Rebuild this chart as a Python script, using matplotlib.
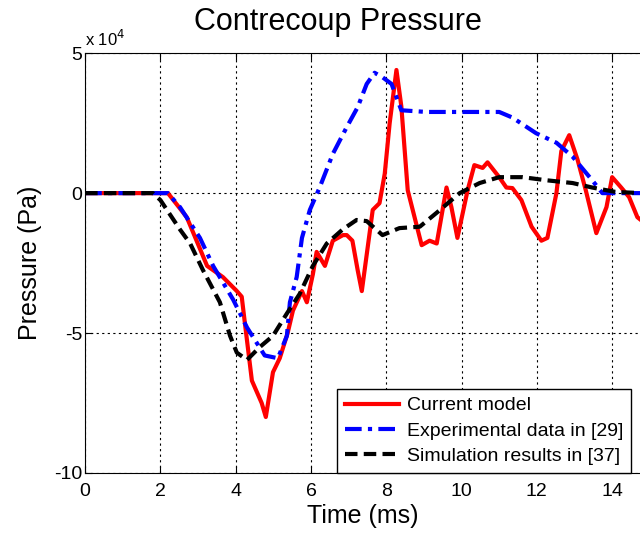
import matplotlib
matplotlib.use("Agg")
import matplotlib.pyplot as plt

plt.rcParams['font.family'] = ['Liberation Sans', 'DejaVu Sans']
plt.rcParams['axes.unicode_minus'] = False

# pressure values in units of 1e4 Pa, time in ms
model_t = [0, 2.0, 2.2, 2.7, 3.24, 3.66, 4.03, 4.16, 4.24, 4.43, 4.69, 4.8, 4.99, 5.17,
           5.38, 5.52, 5.76, 5.89, 6.05, 6.15, 6.37, 6.58, 6.85, 6.95, 7.1, 7.24, 7.35,
           7.64, 7.82, 7.96, 8.09, 8.27, 8.4, 8.57, 8.94, 9.15, 9.34, 9.6, 9.73, 9.89,
           10.16, 10.34, 10.56, 10.69, 11.0, 11.19, 11.35, 11.59, 11.86, 12.12, 12.28,
           12.52, 12.65, 12.86, 13.08, 13.3, 13.58, 13.85, 14.0, 14.24, 14.45, 14.67, 14.8]
model_p = [0, 0, 0, -0.86, -2.6, -3.0, -3.5, -3.7, -4.6, -6.7, -7.5, -8.0, -6.4, -5.9,
           -5.0, -4.2, -3.5, -3.9, -2.9, -2.1, -2.6, -1.7, -1.5, -1.5, -1.7, -2.75, -3.5,
           -0.6, -0.36, 0.7, 2.5, 4.4, 3.1, 0.1, -1.86, -1.7, -1.8, 0.2, -0.5, -1.6,
           0.1, 1.0, 0.9, 1.1, 0.57, 0.2, 0.18, -0.25, -1.2, -1.7, -1.6,
           0, 1.5, 2.07, 1.2, 0.1, -1.43, -0.5, 0.57, 0.2, -0.14, -0.86, -1.0]

exp_t = [0, 2.2, 2.52, 3.05, 3.4, 3.93, 4.3, 4.77, 5.12, 5.36, 5.44, 5.62, 5.76, 5.97,
         6.23, 6.58, 6.95, 7.24, 7.48, 7.69, 7.9, 8.14, 8.4, 9.07, 11.0, 11.35, 11.98,
         12.52, 12.95, 13.47, 13.74, 14.8]
exp_p = [0, 0, -0.5, -1.6, -2.6, -3.8, -4.8, -5.8, -5.9, -5.1, -3.9, -3.0, -1.6, -0.6,
         0.2, 1.4, 2.36, 3.07, 3.9, 4.3, 4.14, 3.9, 2.96, 2.9, 2.9, 2.7, 2.14,
         1.8, 1.3, 0.46, 0, 0]

sim_t = [0, 1.8, 2.0, 2.52, 2.79, 3.13, 3.58, 3.85, 4.03, 4.3, 4.64, 4.99, 5.36, 5.7,
         6.05, 6.42, 6.84, 7.21, 7.48, 7.9, 8.35, 8.89, 9.34, 9.95, 10.48, 11.0, 11.62,
         12.25, 12.95, 13.47, 14.1, 14.8]
sim_p = [0, 0, -0.25, -1.3, -1.8, -2.75, -3.9, -5.1, -5.7, -5.96, -5.5, -5.1, -4.3, -3.6,
         -2.6, -1.8, -1.3, -0.96, -1.0, -1.5, -1.25, -1.2, -0.7, 0, 0.36, 0.57, 0.57,
         0.46, 0.36, 0.2, 0.04, 0]

fig = plt.figure(figsize=(6.4, 5.41), dpi=100)
ax = fig.add_axes([0.133, 0.1257, 0.867, 0.776])

ax.plot(model_t, model_p, color='red', lw=3, label='Current model')
ax.plot(exp_t, exp_p, color='blue', lw=3, linestyle=(0, (4, 1.5, 1, 1.5)),
        label='Experimental data in [29]')
ax.plot(sim_t, sim_p, color='black', lw=3, linestyle=(0, (3, 1.5)),
        label='Simulation results in [37]')

ax.set_xlim(0, 14.74)
ax.set_ylim(-10, 5)
ax.set_xticks([0, 2, 4, 6, 8, 10, 12, 14])
ax.set_yticks([-10, -5, 0, 5])
ax.tick_params(direction='in', labelsize=14, top=True, length=5)
ax.tick_params(axis='x', pad=7)
ax.tick_params(axis='y', pad=2)
ax.grid(True, color='black', linestyle=(0, (2, 3)), linewidth=0.8)
ax.spines['right'].set_visible(False)

ax.set_title('Contrecoup Pressure', fontsize=22, x=0.455, pad=17)
ax.set_xlabel('Time (ms)', fontsize=18, labelpad=3)
ax.set_ylabel('Pressure (Pa)', fontsize=18, labelpad=9)
ax.text(0.0, 1.01, r'x 10$^4$', transform=ax.transAxes, fontsize=12, va='bottom')

leg = ax.legend(loc='lower right', bbox_to_anchor=(0.984, 0.0), fontsize=14,
                fancybox=False, framealpha=1, edgecolor='black', borderaxespad=0.0,
                handlelength=2.8, handletextpad=0.4, borderpad=0.4, labelspacing=0.4)
leg.get_frame().set_linewidth(1)

fig.savefig('out.png', dpi=100)
